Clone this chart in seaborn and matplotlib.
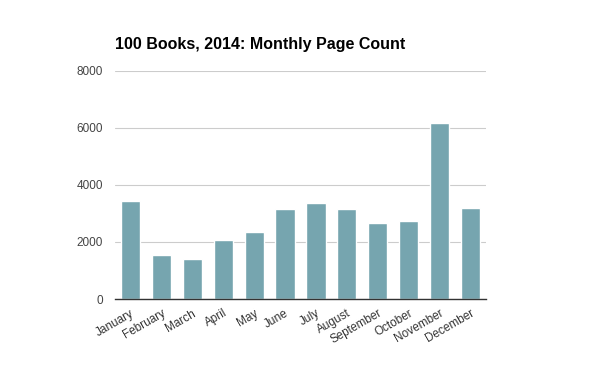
import matplotlib
matplotlib.use("Agg")
import matplotlib.pyplot as plt
import seaborn as sns
import pandas as pd

months = ["January", "February", "March", "April", "May", "June", "July",
          "August", "September", "October", "November", "December"]
pages = [3450, 1550, 1410, 2080, 2360, 3170, 3380, 3170, 2680, 2750, 6180, 3200]
yticks = [0, 2000, 4000, 6000, 8000]

sns.set_theme(style="white")
plt.rcParams['font.family'] = ['Liberation Sans', 'DejaVu Sans']

df = pd.DataFrame({"month": months, "pages": pages})

fig = plt.figure(figsize=(6, 3.71), dpi=100)
ax = fig.add_axes([115/600, 1-299/371, (486-115)/600, (299-71)/371])
sns.barplot(data=df, x="month", y="pages", color="#76a5af", saturation=1,
            width=0.62, ax=ax, zorder=3)
ax.set_xlim(-0.5, 11.5)
ax.set_ylim(0, 8000)
ax.set_yticks(yticks)
ax.set_yticklabels([str(t) for t in yticks], fontsize=8.5, color="#444444")
ax.yaxis.grid(True, color="#cccccc", linewidth=0.8, zorder=0)
ax.set_axisbelow(True)
for s in ["top", "right", "left"]:
    ax.spines[s].set_visible(False)
ax.spines["bottom"].set_color("#333333")
ax.spines["bottom"].set_linewidth(1.0)
ax.spines["bottom"].set_zorder(4)
ax.tick_params(axis="y", length=0, pad=8.5)
ax.tick_params(axis="x", length=0, pad=6)
ax.set_xticks(range(len(months)))
ax.set_xticklabels(months, rotation=30, ha="right", rotation_mode="anchor",
                   fontsize=8.5, color="#333333")
ax.set_xlabel("")
ax.set_ylabel("")
fig.text(115/600, 1-44/371, "100 Books, 2014: Monthly Page Count",
         fontsize=11.5, fontweight="bold", color="#000000", va="center", ha="left")
fig.savefig("out.png", dpi=100)
